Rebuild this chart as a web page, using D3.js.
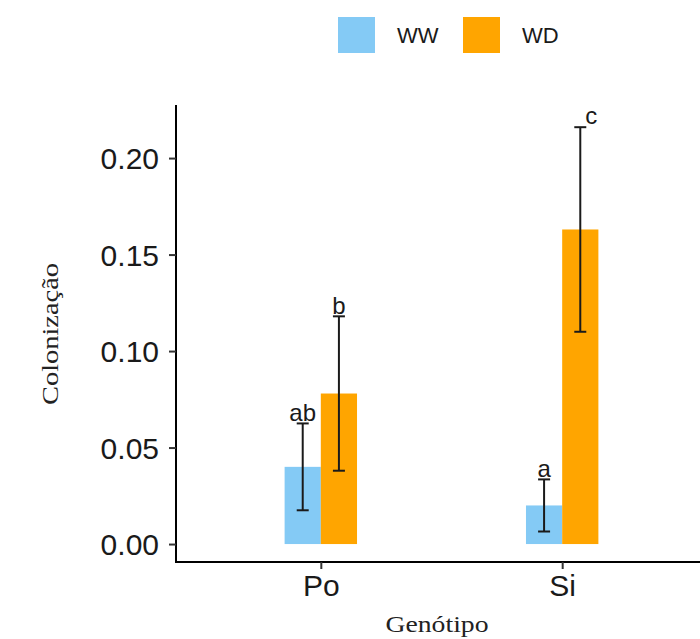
<!DOCTYPE html>
<html>
<head>
<meta charset="utf-8">
<script src="https://cdn.jsdelivr.net/npm/d3@7"></script>
<style>
  html, body { margin: 0; padding: 0; background: #fff; }
  svg { display: block; }
</style>
</head>
<body>
<script>
// Colonização por genótipo e tratamento hídrico
const genotypes = ["Po", "Si"];
const treatments = ["WW", "WD"];
const meanWW = [0.040, 0.020];
const meanWD = [0.078, 0.163];
const errWW = [0.0225, 0.0135];
const errWD = [0.040, 0.053];
const lettersWW = ["ab", "a"];
const lettersWD = ["b", "c"];
const yTicks = [0.00, 0.05, 0.10, 0.15, 0.20];

const W = 700, H = 639;
const colors = { WW: "#84CAF5", WD: "#FFA500" };

const svg = d3.select("body").append("svg")
  .attr("width", W).attr("height", H);

const x = d3.scalePoint().domain(genotypes).range([176, 707]).padding(0.6);
const dodge = d3.scaleBand().domain(treatments)
  .range([-0.15 * x.step(), 0.15 * x.step()]);
const y = d3.scaleLinear().domain([-0.0093, 0.2275]).range([562, 105]);

const rows = [];
genotypes.forEach((g, i) => {
  rows.push({ g, t: "WW", mean: meanWW[i], err: errWW[i], letter: lettersWW[i] });
  rows.push({ g, t: "WD", mean: meanWD[i], err: errWD[i], letter: lettersWD[i] });
});
const cx = d => x(d.g) + dodge(d.t) + dodge.bandwidth() / 2;

// bars
svg.append("g").selectAll("rect").data(rows).join("rect")
  .attr("x", d => x(d.g) + dodge(d.t))
  .attr("width", dodge.bandwidth())
  .attr("y", d => y(d.mean))
  .attr("height", d => y(0) - y(d.mean))
  .attr("fill", d => colors[d.t]);

// error bars
const eb = svg.append("g").attr("stroke", "#1a1a1a").attr("stroke-width", 2);
eb.selectAll("line.v").data(rows).join("line").attr("class", "v")
  .attr("x1", cx).attr("x2", cx)
  .attr("y1", d => y(d.mean + d.err)).attr("y2", d => y(d.mean - d.err));
eb.selectAll("line.top").data(rows).join("line").attr("class", "top")
  .attr("x1", d => cx(d) - 6).attr("x2", d => cx(d) + 6)
  .attr("y1", d => y(d.mean + d.err)).attr("y2", d => y(d.mean + d.err));
eb.selectAll("line.bot").data(rows).join("line").attr("class", "bot")
  .attr("x1", d => cx(d) - 6).attr("x2", d => cx(d) + 6)
  .attr("y1", d => y(d.mean - d.err)).attr("y2", d => y(d.mean - d.err));

// significance letters
const nudge = { c: [11, -1] };
svg.append("g").selectAll("text").data(rows).join("text")
  .attr("x", d => cx(d) + (nudge[d.letter] ? nudge[d.letter][0] : 0))
  .attr("y", d => y(d.mean + d.err) - 2 + (nudge[d.letter] ? nudge[d.letter][1] : 0))
  .attr("text-anchor", "middle")
  .attr("font-family", "Liberation Sans, Arial, sans-serif")
  .attr("font-size", 24)
  .attr("fill", "#1a1a1a")
  .text(d => d.letter);

// y axis
const yAxis = svg.append("g").attr("transform", "translate(176,0)")
  .call(d3.axisLeft(y).tickValues(yTicks).tickFormat(d3.format(".2f"))
    .tickSize(7).tickPadding(10));
yAxis.select(".domain").attr("stroke", "#000").attr("stroke-width", 2)
  .attr("d", `M0,${y.range()[0]}V${y.range()[1]}`);
yAxis.selectAll(".tick line").attr("stroke", "#333").attr("stroke-width", 2);
yAxis.selectAll(".tick text")
  .attr("font-family", "Liberation Sans, Arial, sans-serif")
  .attr("font-size", 30).attr("fill", "#1a1a1a").attr("dy", "0.36em");

// x axis
const xAxis = svg.append("g").attr("transform", `translate(0,${y.range()[0]})`)
  .call(d3.axisBottom(x).tickSize(7).tickPadding(6));
xAxis.select(".domain").attr("stroke", "#000").attr("stroke-width", 2)
  .attr("d", `M175,0H707`);
xAxis.selectAll(".tick line").attr("stroke", "#333").attr("stroke-width", 2);
xAxis.selectAll(".tick text")
  .attr("font-family", "Liberation Sans, Arial, sans-serif")
  .attr("font-size", 30).attr("fill", "#1a1a1a");

// axis titles
svg.append("text")
  .attr("x", 437).attr("y", 632)
  .attr("text-anchor", "middle")
  .attr("font-family", "Liberation Serif, Times New Roman, serif")
  .attr("font-size", 24).attr("fill", "#222")
  .attr("textLength", 103).attr("lengthAdjust", "spacingAndGlyphs")
  .text("Genótipo");
svg.append("text")
  .attr("transform", "translate(58,334) rotate(-90)")
  .attr("text-anchor", "middle")
  .attr("font-family", "Liberation Serif, Times New Roman, serif")
  .attr("font-size", 24).attr("fill", "#222")
  .attr("textLength", 142).attr("lengthAdjust", "spacingAndGlyphs")
  .text("Colonização");

// legend
const legend = svg.append("g");
const legX = [338, 463];
treatments.forEach((t, i) => {
  legend.append("rect")
    .attr("x", legX[i]).attr("y", 17).attr("width", 37).attr("height", 36)
    .attr("fill", colors[t]);
  legend.append("text")
    .attr("x", legX[i] + 59).attr("y", 35).attr("dy", "0.36em")
    .attr("font-family", "Liberation Sans, Arial, sans-serif")
    .attr("font-size", 22).attr("fill", "#1a1a1a")
    .text(t);
});
</script>
</body>
</html>
